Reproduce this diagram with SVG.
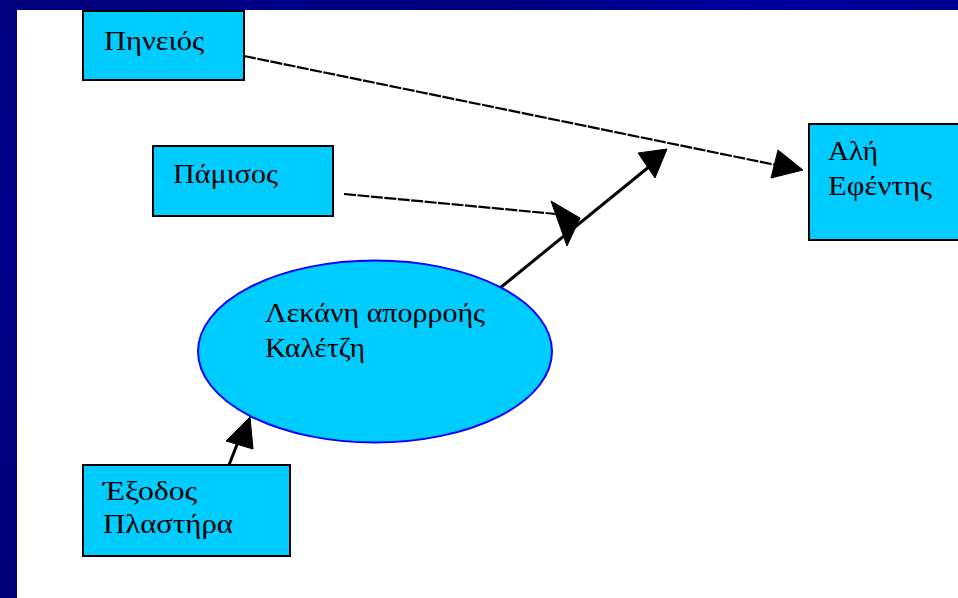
<svg xmlns="http://www.w3.org/2000/svg" width="958" height="598" viewBox="0 0 958 598">
<defs>
<linearGradient id="bandTop" x1="0" y1="0" x2="1" y2="0">
<stop offset="0" stop-color="#00007a"/>
<stop offset="0.3" stop-color="#000088"/>
<stop offset="0.5" stop-color="#00007e"/>
<stop offset="0.8" stop-color="#0000a0"/>
<stop offset="1" stop-color="#000090"/>
</linearGradient>
<linearGradient id="bandLeft" x1="0" y1="0" x2="0" y2="1">
<stop offset="0" stop-color="#000080"/>
<stop offset="0.4" stop-color="#00008c"/>
<stop offset="0.7" stop-color="#000080"/>
<stop offset="1" stop-color="#000078"/>
</linearGradient>
<style>
.box{fill:#00ccff;stroke:#000000;stroke-width:2}
.ell{fill:#00ccff;stroke:#0000ff;stroke-width:2}
.lbl{font-family:"Liberation Serif","DejaVu Serif",serif;font-size:28px;fill:#000000}
.ln{stroke:#000000;fill:none;stroke-width:2.2;stroke-dasharray:12 1.5}
.lns{stroke:#000000;fill:none;stroke-width:3}
.ah{fill:#000000;stroke:#000000;stroke-width:1}
</style>
</defs>
<rect x="0" y="0" width="958" height="598" fill="#ffffff"/>
<rect x="0" y="0" width="958" height="10" fill="url(#bandTop)"/>
<rect x="0" y="0" width="17" height="598" fill="url(#bandLeft)"/>

<g id="connectors">
<line class="ln" x1="244" y1="56" x2="776" y2="165"/>
<polygon class="ah" points="778,150 803,170 771,178"/>
<line class="ln" x1="344" y1="194" x2="556" y2="214"/>
<polygon class="ah" points="551,201 580,218 567,246"/>
<line class="lns" x1="500" y1="288" x2="650" y2="166"/>
<polygon class="ah" points="638,153 667,149 655,178"/>
<line class="lns" x1="229" y1="465" x2="238" y2="442"/>
<polygon class="ah" points="250,417 226,441 253,449"/>
</g>

<g id="node-pineios">
<rect class="box" x="83" y="11" width="161" height="69"/>
<text class="lbl" x="104" y="50" textLength="100" lengthAdjust="spacingAndGlyphs">Πηνειός</text>
</g>

<g id="node-pamisos">
<rect class="box" x="153" y="146" width="180" height="70"/>
<text class="lbl" x="173" y="183" textLength="105" lengthAdjust="spacingAndGlyphs">Πάμισος</text>
</g>

<g id="node-ali-efentis">
<rect class="box" x="809" y="124" width="152" height="116"/>
<text class="lbl" x="828" y="160" textLength="50" lengthAdjust="spacingAndGlyphs">Αλή</text>
<text class="lbl" x="828" y="195" textLength="104" lengthAdjust="spacingAndGlyphs">Εφέντης</text>
</g>

<g id="node-lekani">
<ellipse class="ell" cx="375" cy="351.5" rx="177" ry="91"/>
<text class="lbl" x="265" y="322" textLength="220" lengthAdjust="spacingAndGlyphs">Λεκάνη απορροής</text>
<text class="lbl" x="265" y="357" textLength="100" lengthAdjust="spacingAndGlyphs">Καλέτζη</text>
</g>

<g id="node-exodos">
<rect class="box" x="83" y="465" width="207" height="91"/>
<text class="lbl" x="103" y="500" textLength="94" lengthAdjust="spacingAndGlyphs">Έξοδος</text>
<text class="lbl" x="103" y="533" textLength="130" lengthAdjust="spacingAndGlyphs">Πλαστήρα</text>
</g>
</svg>
